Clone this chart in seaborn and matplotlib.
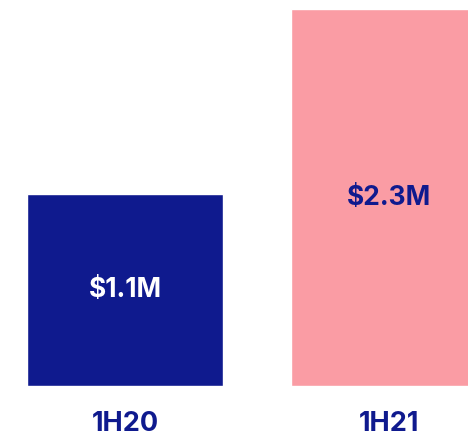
import matplotlib
matplotlib.use("Agg")
import matplotlib.pyplot as plt
import seaborn as sns
import pandas as pd

categories = ["1H20", "1H21"]
heights = [1.17, 2.3]
value_labels = ["$1.1M", "$2.3M"]
bar_colors = ["#0F1A8E", "#FA9CA4"]
label_colors = ["#FFFFFF", "#0F1A8E"]

sns.set_theme(style="white")
plt.rcParams['font.family'] = ['Inter', 'DejaVu Sans']

df = pd.DataFrame({"period": categories, "value": heights})

fig = plt.figure(figsize=(4.68, 4.37), dpi=100)
ax = fig.add_axes([0, 51/437, 1, 386/437])
sns.barplot(data=df, x="period", y="value", hue="period", palette=bar_colors,
            width=0.742, legend=False, ax=ax, saturation=1)
ax.set_xlim(-0.4735, 1.299)
ax.set_ylim(0, 2.358)
for sp in ax.spines.values():
    sp.set_visible(False)
ax.set_yticks([])
ax.set_xlabel("")
ax.set_ylabel("")
ax.tick_params(axis='x', length=0, pad=18)
for t in ax.get_xticklabels():
    t.set_fontsize(19.5)
    t.set_fontweight('bold')
    t.set_color("#0F1A8E")

for i, (h, lab, c) in enumerate(zip(heights, value_labels, label_colors)):
    ax.text(i, h / 2, lab, ha='center', va='center', fontsize=19,
            fontweight='bold', color=c)

fig.savefig("out.png", dpi=100)
